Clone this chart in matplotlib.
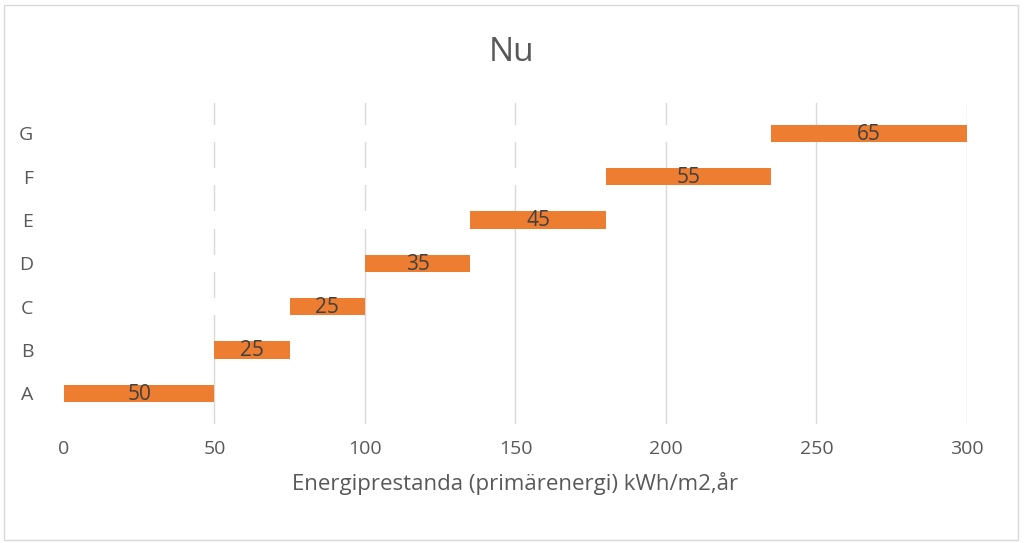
import matplotlib.pyplot as plt
from matplotlib.patches import Rectangle

# Data
categories = ["A", "B", "C", "D", "E", "F", "G"]
starts = [0, 50, 75, 100, 135, 180, 235]
widths = [50, 25, 25, 35, 45, 55, 65]
xticks = [0, 50, 100, 150, 200, 250, 300]

plt.rcParams["font.family"] = "Open Sans"
fig = plt.figure(figsize=(10.24, 5.43), dpi=100)
fig.patches.append(Rectangle((0.004, 0.006), 0.99, 0.985, transform=fig.transFigure,
                             fill=False, edgecolor="#d9d9d9", linewidth=1))
ax = fig.add_axes([0.0625, 0.22, 0.8818, 0.59])

y = range(len(categories))
for x in xticks[1:]:
    ax.axvline(x, color="#d9d9d9", linewidth=1, zorder=0)
# invisible base series hides gridlines like in the original
ax.barh(y, starts, height=0.4, color="white", zorder=1)
bars = ax.barh(y, widths, left=starts, height=0.4, color="#ed7d31", zorder=2)
for b, w in zip(bars, widths):
    ax.text(b.get_x() + b.get_width() / 2, b.get_y() + b.get_height() / 2 - 0.02, str(w),
            ha="center", va="center", fontsize=15, color="#404040", zorder=3)

ax.set_xlim(0, 300)
ax.set_ylim(-0.7, 6.7)
ax.set_xticks(xticks)
ax.set_yticks(list(y))
ax.set_yticklabels(categories)
ax.tick_params(length=0, labelsize=14, colors="#595959")
ax.tick_params(axis="y", pad=22)
ax.tick_params(axis="x", pad=12)
for s in ax.spines.values():
    s.set_visible(False)
ax.set_xlabel("Energiprestanda (primärenergi) kWh/m2,år", fontsize=16, color="#595959", labelpad=10)
fig.text(0.5, 0.903, "Nu", ha="center", va="center", fontsize=24, color="#595959")

fig.savefig("out.png", dpi=100)
